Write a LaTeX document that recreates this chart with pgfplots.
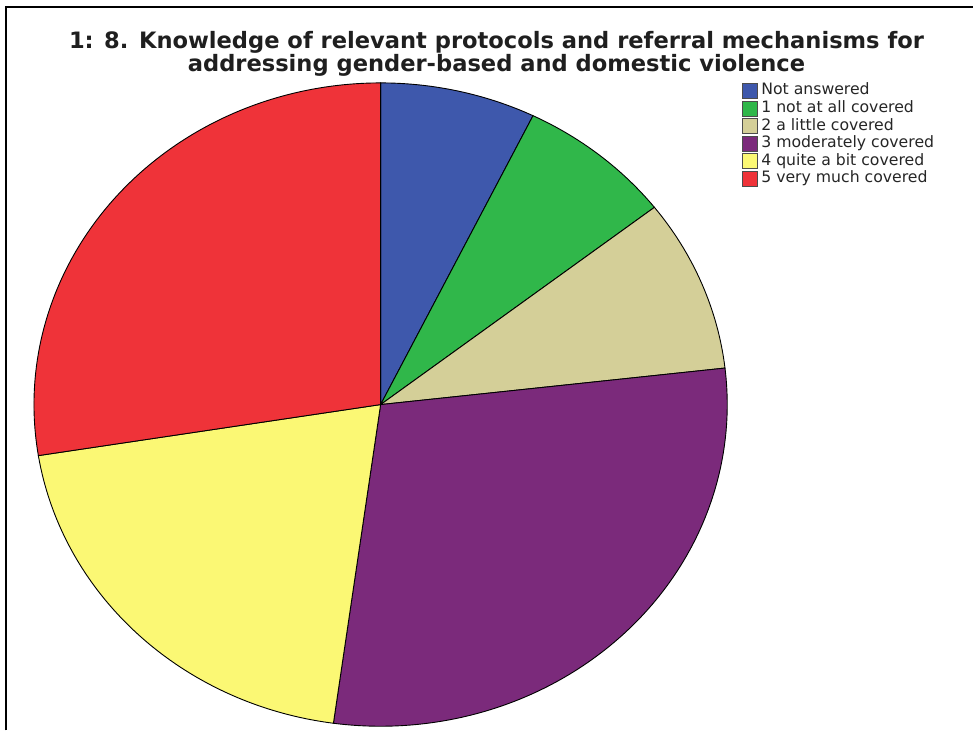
\documentclass[border=0pt]{standalone}
\usepackage{fontspec}
\setmainfont{DejaVu Sans}
\usepackage{pgfplots}
\usepackage{pgfplotstable}
\pgfplotsset{compat=1.18}

\definecolor{c0}{HTML}{3E58AC}
\definecolor{c1}{HTML}{30B74A}
\definecolor{c2}{HTML}{D4CF98}
\definecolor{c3}{HTML}{7B2A7B}
\definecolor{c4}{HTML}{FBF874}
\definecolor{c5}{HTML}{EF3339}

% counts per answer, clockwise from 12 o'clock
\pgfplotstableread{
label count
na 5
c1 5
c2 6
c3 20
c4 14
c5 19
}\piedata

\begin{document}
\begin{tikzpicture}
\begin{axis}[
  width=974pt, height=731pt, scale only axis,
  xmin=0, xmax=974, ymin=0, ymax=731,
  axis lines=none, clip=false,
  legend cell align=left,
  legend style={at={(axis cs:743,649)}, anchor=north west, draw=none, fill=none,
    inner sep=0pt, row sep=0pt,
    font=\fontsize{15.7}{17}\selectfont,
    nodes={inner xsep=3pt, inner ysep=1.3pt, text height=11.5pt, text depth=3.5pt, text=black!85}},
  legend image code/.code={\draw[#1, draw=black!70, line width=0.9pt] (0pt,-7.5pt) rectangle (15pt,7.5pt);},
]
\path (axis cs:0,0) rectangle (axis cs:974,731);
\draw[line width=2pt] (axis cs:6,0) -- (axis cs:6,724) -- (axis cs:974,724);

\pgfplotsextra{
  \pgfplotstablegetrowsof{\piedata}
  \pgfmathtruncatemacro\lastrow{\pgfplotsretval-1}
  \gdef\pietotal{0}
  \foreach \i in {0,...,\lastrow}{
    \pgfplotstablegetelem{\i}{count}\of\piedata
    \pgfmathsetmacro\tmp{\pietotal+\pgfplotsretval}
    \global\let\pietotal\tmp
  }
  \gdef\pieang{90}
  \foreach \i in {0,...,\lastrow}{
    \pgfplotstablegetelem{\i}{count}\of\piedata
    \pgfmathsetmacro\nxt{\pieang-\pgfplotsretval*360/\pietotal}
    \filldraw[fill=c\i, draw=black, line width=0.9pt]
      (axis cs:381,326) -- ++(\pieang:347 and 322)
      arc[start angle=\pieang, end angle=\nxt, x radius=347, y radius=322] -- cycle;
    \global\let\pieang\nxt
  }
}

\node[font=\bfseries\fontsize{22.6}{24}\selectfont, anchor=base, text=black!88]
  at (axis cs:497,682) {1: 8. Knowledge of relevant protocols and referral mechanisms for};
\node[font=\bfseries\fontsize{22.6}{24}\selectfont, anchor=base, text=black!88]
  at (axis cs:497,659.5) {addressing gender-based and domestic violence};

\addlegendimage{fill=c0}\addlegendentry{Not answered}
\addlegendimage{fill=c1}\addlegendentry{1 not at all covered}
\addlegendimage{fill=c2}\addlegendentry{2 a little covered}
\addlegendimage{fill=c3}\addlegendentry{3 moderately covered}
\addlegendimage{fill=c4}\addlegendentry{4 quite a bit covered}
\addlegendimage{fill=c5}\addlegendentry{5 very much covered}
\end{axis}
\end{tikzpicture}
\end{document}
